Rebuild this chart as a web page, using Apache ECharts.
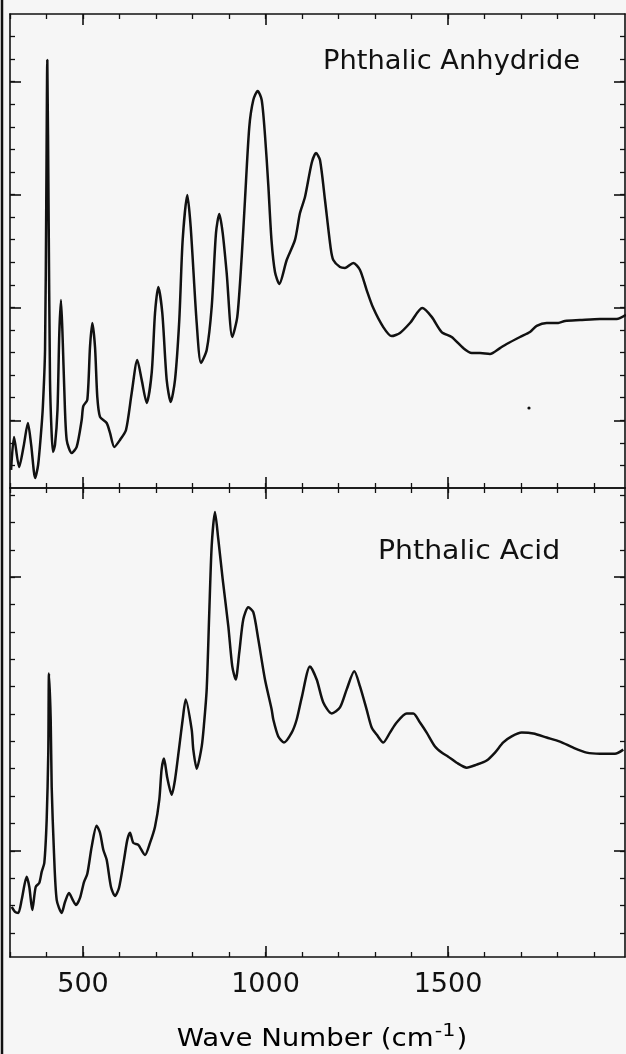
<!DOCTYPE html>
<html>
<head>
<meta charset="utf-8">
<script src="https://cdn.jsdelivr.net/npm/echarts@6/dist/echarts.min.js"></script>
<style>
  html, body { margin: 0; padding: 0; background: #f6f6f6; }
  #chart { width: 626px; height: 1054px; }
</style>
</head>
<body>
<div id="chart"></div>
<script>
// Phthalic Anhydride spectrum (upper panel), arbitrary units
const anhydrideWave = [303, 311, 325, 338, 349, 358, 369, 377, 385, 390, 396, 399.4, 402.2, 405.5, 409.6, 413.7, 417.8,
  423.3, 430.1, 435.1, 439.7, 444.4, 448.8, 455.3, 469, 482.7, 496.4, 500.8, 511.8, 519.2, 525.5, 532.9, 539.2, 546.6,
  564.9, 574, 585.8, 601.4, 617.8, 633.4, 648.8, 660.8, 674.5, 688.2, 697.3, 706.3, 717.3, 729.3, 740.3, 752.1, 763.8,
  773.1, 785.8, 795.1, 811.5, 823.3, 838.9, 852.6, 864.4, 873.4, 882.7, 893.7, 909, 922.7, 934.8, 943.8, 955.6, 966.6,
  978.6, 989.6, 998.6, 1007.7, 1016.4, 1026, 1037.8, 1058.1, 1080.8, 1094.5, 1108.2, 1126.6, 1138.4, 1149.3, 1163,
  1178.6, 1185.8, 1204.1, 1217.8, 1240.5, 1258.9, 1277.2, 1295.3, 1322.7, 1345.7, 1368.5, 1395.9, 1429.6, 1455.4,
  1482.7, 1510.1, 1541.9, 1564.9, 1587.7, 1615.1, 1642.5, 1660.8, 1697.3, 1724.7, 1743, 1770.4, 1802.2, 1820.5,
  1861.6, 1916.4, 1962.2, 1987.7];
const anhydrideAbs = [0.80, 2.26, 0.93, 1.91, 2.88, 1.91, 0.44, 1.02, 2.44, 3.59, 6.11, 12.76, 18.96, 12.76, 4.79, 2.57, 1.60,
  1.91, 3.46, 6.87, 8.33, 6.56, 4.34, 2.13, 1.55, 1.82, 3.01, 3.63, 3.90, 6.25, 7.31, 6.25, 4.03, 3.15,
  2.88, 2.44, 1.82, 2.13, 2.57, 4.21, 5.67, 4.79, 3.77, 5.10, 7.75, 8.91, 7.75, 4.79, 3.81, 4.79, 7.44,
  10.99, 12.98, 11.56, 7.31, 5.54, 6.11, 8.02, 11.30, 12.14, 11.30, 9.52, 6.69, 7.58, 10.23, 12.76, 15.99, 17.19,
  17.59, 17.19, 15.64, 13.42, 10.99, 9.57, 9.04, 10.10, 10.99, 12.18, 12.89, 14.40, 14.84, 14.53, 12.76,
  10.63, 10.10, 9.79, 9.75, 9.97, 9.66, 8.77, 7.97, 7.13, 6.73, 6.87, 7.31, 7.97, 7.58,
  6.91, 6.69, 6.20, 5.98, 5.98, 5.94, 6.20, 6.38, 6.69, 6.91, 7.18, 7.31, 7.31, 7.40,
  7.44, 7.49, 7.49, 7.67];

// Phthalic Acid spectrum (lower panel), arbitrary units
const acidWave = [304.7, 313.7, 322.7, 332, 345.7, 352.9, 361.1, 370.4, 380.3, 386.8, 394, 400.5, 404.9, 406.8, 411.5,
  414.2, 420.5, 427.9, 441.6, 450.7, 461.6, 471.8, 480.8, 491.8, 502.7, 511.8, 523.8, 537.3, 546.6, 555.6, 564.9,
  576.7, 587.7, 598.6, 612.3, 621.4, 628.8, 637.8, 651.5, 669.9, 683.6, 697.3, 709.1, 715.3, 721.9, 730.9, 743,
  752.1, 763.8, 773.1, 781.4, 797.8, 802.2, 811.5, 825.2, 831.5, 838.9, 846, 852.6, 861.6, 870.7, 882.7, 898.1,
  909, 918.4, 928.2, 939.2, 952.9, 966.6, 980.3, 998.6, 1017, 1021.4, 1035.1, 1050.7, 1071.8, 1085.5, 1099.2,
  1121.9, 1140.3, 1158.4, 1181.4, 1204.1, 1222.5, 1243.3, 1258.9, 1277.2, 1290.9, 1304.6, 1322.7, 1341.1,
  1359.4, 1386.8, 1404.9, 1423.3, 1441.6, 1464.4, 1482.7, 1500.8, 1523.8, 1551.2, 1578.6, 1606, 1628.8,
  1651.5, 1674.5, 1701.9, 1733.7, 1770.4, 1806.8, 1843.3, 1880, 1916.4, 1957.5, 1980.3];
const acidAbs = [1.95, 1.77, 1.73, 2.21, 3.05, 2.68, 1.84, 2.68, 2.83, 3.23, 3.56, 5.14, 7.59, 10.48, 8.80,
  6.34, 3.93, 2.21, 1.73, 2.13, 2.46, 2.21, 2.02, 2.28, 2.86, 3.16, 4.15, 4.92, 4.66, 4.04, 3.67,
  2.68, 2.35, 2.64, 3.67, 4.40, 4.66, 4.29, 4.22, 3.85, 4.29, 4.88, 5.87, 6.97, 7.37, 6.67, 6.05,
  6.60, 7.81, 8.80, 9.53, 8.43, 7.70, 7.00, 7.81, 8.62, 9.90, 12.72, 15.14, 16.38, 15.39, 13.93, 12.21,
  10.74, 10.26, 11.25, 12.46, 12.90, 12.72, 11.73, 10.26, 9.16, 8.80, 8.18, 7.96, 8.32, 8.80, 9.60,
  10.74, 10.26, 9.42, 9.02, 9.24, 9.90, 10.56, 10.01, 9.16, 8.51, 8.25, 7.96, 8.32,
  8.69, 9.02, 9.02, 8.69, 8.32, 7.81, 7.59, 7.44, 7.22, 7.04, 7.15, 7.30, 7.59,
  7.96, 8.18, 8.32, 8.29, 8.14, 7.99, 7.77, 7.59, 7.55, 7.55, 7.70];

// ticks
const xMinorTicks = [300, 400, 500, 600, 700, 800, 900, 1000, 1100, 1200, 1300, 1400, 1500, 1600, 1700, 1800, 1900];
const xMajorTicks = [500, 1000, 1500];
const topMinorTicks = [1, 2, 3, 4, 5, 6, 7, 8, 9, 10, 11, 12, 13, 14, 15, 16, 17, 18, 19, 20];
const topMajorTicks = [3, 8, 13, 18];
const bottomMinorTicks = [1, 2, 3, 4, 5, 6, 7, 8, 9, 10, 11, 12, 13, 14, 15, 16, 17];
const bottomMajorTicks = [4, 14];

const INK = '#111';
const FONT = '"DejaVu Sans", sans-serif';

const chart = echarts.init(document.getElementById('chart'));

// two overlapping axes per side: short ticks and long ticks
function xPair(gridIndex, position, labels) {
    const base = {
        type: 'value', gridIndex: gridIndex, position: position, min: 300, max: 1985,
        splitLine: { show: false }
    };
    return [
        Object.assign({}, base, {
            axisLine: { show: true, onZero: false, lineStyle: { color: INK, width: 1.6 } },
            axisTick: { show: true, inside: true, length: 5, customValues: xMinorTicks, lineStyle: { color: INK, width: 1.3 } },
            axisLabel: { show: false }
        }),
        Object.assign({}, base, {
            axisLine: { show: false, onZero: false },
            axisTick: { show: true, inside: true, length: 11, customValues: xMajorTicks, lineStyle: { color: INK, width: 1.6 } },
            axisLabel: {
                show: labels, customValues: xMajorTicks, margin: 14,
                color: INK, fontSize: 27, fontFamily: FONT,
                formatter: (v) => String(v)
            }
        })
    ];
}

function yPair(gridIndex, position, min, max, minor, major) {
    const base = {
        type: 'value', gridIndex: gridIndex, position: position, min: min, max: max,
        splitLine: { show: false }, axisLabel: { show: false }
    };
    return [
        Object.assign({}, base, {
            axisLine: { show: true, onZero: false, lineStyle: { color: INK, width: 1.6 } },
            axisTick: { show: true, inside: true, length: 5, customValues: minor, lineStyle: { color: INK, width: 1.3 } }
        }),
        Object.assign({}, base, {
            axisLine: { show: false, onZero: false },
            axisTick: { show: true, inside: true, length: 11, customValues: major, lineStyle: { color: INK, width: 1.6 } }
        })
    ];
}

const xAxes = [].concat(
    xPair(0, 'bottom', false), xPair(0, 'top', false),
    xPair(1, 'bottom', true), xPair(1, 'top', false)
);
const yAxes = [].concat(
    yPair(0, 'left', 0, 21, topMinorTicks, topMajorTicks),
    yPair(0, 'right', 0, 21, topMinorTicks, topMajorTicks),
    yPair(1, 'left', 0.12, 17.26, bottomMinorTicks, bottomMajorTicks),
    yPair(1, 'right', 0.12, 17.26, bottomMinorTicks, bottomMajorTicks)
);

const option = {
    backgroundColor: '#f6f6f6',
    animation: false,
    grid: [
        { left: 10, right: 1, top: 14, height: 474 },
        { left: 10, right: 1, top: 488, height: 469 }
    ],
    xAxis: xAxes,
    yAxis: yAxes,
    series: [
        {
            name: 'Phthalic Anhydride', type: 'line', xAxisIndex: 0, yAxisIndex: 0,
            data: anhydrideWave.map((w, i) => [w, anhydrideAbs[i]]),
            showSymbol: false, smooth: 0.25,
            lineStyle: { color: INK, width: 2.5 }
        },
        {
            name: 'Phthalic Acid', type: 'line', xAxisIndex: 4, yAxisIndex: 4,
            data: acidWave.map((w, i) => [w, acidAbs[i]]),
            showSymbol: false, smooth: 0.25,
            lineStyle: { color: INK, width: 2.5 }
        }
    ],
    graphic: [
        // scanned page edge on the left
        { type: 'line', shape: { x1: 2, y1: 0, x2: 2, y2: 1054 }, style: { stroke: INK, lineWidth: 2.5 } },
        { type: 'circle', shape: { cx: 529, cy: 408, r: 1.6 }, style: { fill: INK } },
        {
            type: 'text', x: 323, y: 62, scaleX: 1.05,
            style: { text: 'Phthalic Anhydride', font: '26px ' + FONT, fill: INK, verticalAlign: 'middle' }
        },
        {
            type: 'text', x: 378, y: 552, scaleX: 1.09,
            style: { text: 'Phthalic Acid', font: '26px ' + FONT, fill: INK, verticalAlign: 'middle' }
        },
        {
            type: 'text', x: 322, y: 1040, scaleX: 1.15,
            style: {
                text: '{a|Wave Number (cm}{s|-1}{a|)}',
                align: 'center', verticalAlign: 'middle',
                rich: {
                    a: { fontSize: 24, fontFamily: FONT, color: INK },
                    s: { fontSize: 18, fontFamily: FONT, color: INK, verticalAlign: 'top', padding: [0, 1, 18, 1] }
                }
            }
        }
    ]
};

chart.setOption(option);
</script>
</body>
</html>
